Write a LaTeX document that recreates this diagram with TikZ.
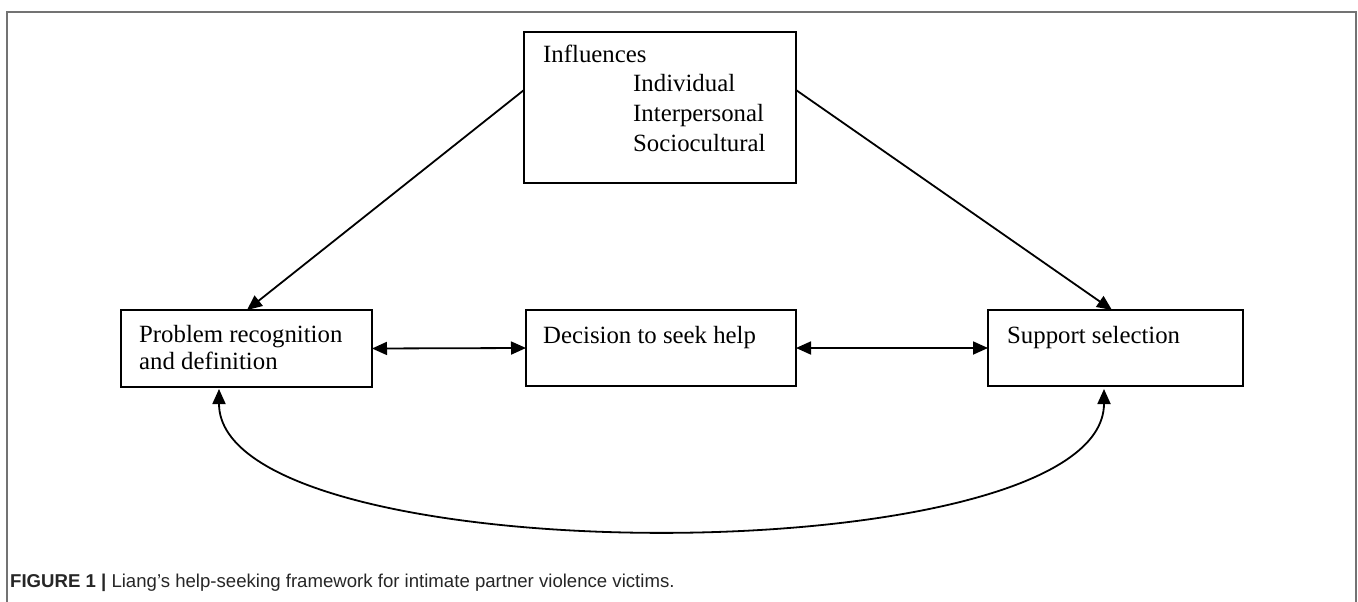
\documentclass[tikz,border=0pt]{standalone}
\usepackage{fontspec}
\setmainfont{Liberation Serif}
\newfontfamily\capfont{Liberation Sans}
\usetikzlibrary{arrows.meta,calc}
\tikzset{
  box/.style={draw=black, line width=2pt, anchor=north west, inner sep=0pt, outer sep=0pt},
  lbl/.style={anchor=base west, inner sep=0pt, font=\fontsize{24.8}{29}\selectfont},
  arr/.style={line width=1.8pt, -{Triangle[length=15pt,width=13pt]}},
  darr/.style={line width=1.8pt, {Triangle[length=15pt,width=13pt]}-{Triangle[length=15pt,width=13pt]}},
  frame/.style={draw=black!55, line width=1.6pt},
}
\begin{document}
\begin{tikzpicture}[x=1pt,y=-1pt]
\useasboundingbox (0,0) rectangle (1358,602);
% frame
\draw[frame] (7,602) -- (7,12) -- (1356,12) -- (1356,602);
% boxes
\node[box, line width=2.8pt, minimum width=272pt, minimum height=151pt] (infl) at (524,32) {};
\node[box, minimum width=251pt, minimum height=77pt] (prob) at (121,310) {};
\node[box, minimum width=270pt, minimum height=76pt] (dec) at (526,310) {};
\node[box, minimum width=255pt, minimum height=76pt] (supp) at (988,310) {};
% labels
\node[lbl] (tinfl) at (543,63) {Influences};
\node[lbl] (tind) at (633,92) {Individual};
\node[lbl] (tint) at (633,121.5) {Interpersonal};
\node[lbl] (tsoc) at (633,151) {Sociocultural};
\node[lbl] (tprob1) at (139,342) {Problem recognition};
\node[lbl] (tprob2) at (139,369) {and definition};
\node[lbl] (tdec) at (543,343) {Decision to seek help};
\node[lbl] (tsupp) at (1007,343) {Support selection};
% connectors
\draw[arr] ($(infl.north west)+(0,58)$) -- ($(prob.north west)+(126,0)$);
\draw[arr] ($(infl.north east)+(0,58)$) -- ($(supp.north west)+(124,0)$);
\draw[darr] (prob.east) -- (dec.west);
\draw[darr] (dec.east) -- (supp.west);
\draw[darr] ($(prob.south west)+(98,2)$) .. controls +(0,187) and +(0,187) .. ($(supp.south west)+(116,3)$);
% caption
\node[anchor=base west, inner sep=0pt, font=\capfont\fontsize{18.6}{21}\selectfont, text=black!85] (cap) at (10,587)
  {\textbf{FIGURE 1 |} Liang’s help-seeking framework for intimate partner violence victims.};
\end{tikzpicture}
\end{document}
